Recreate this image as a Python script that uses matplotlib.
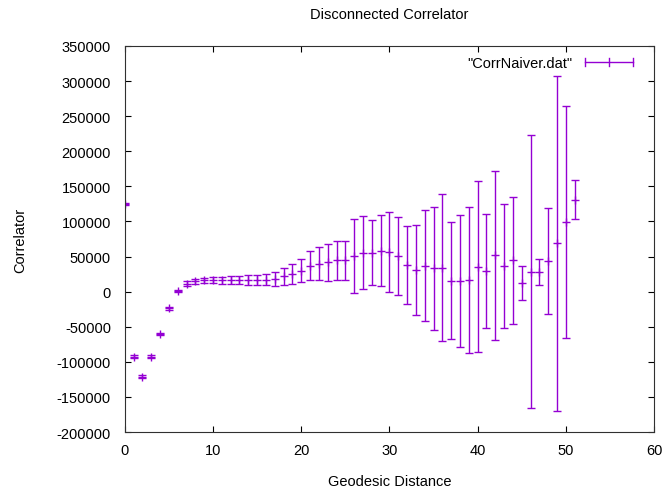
import numpy as np
import matplotlib
matplotlib.use("Agg")
import matplotlib.pyplot as plt
from matplotlib.legend_handler import HandlerBase
from matplotlib.lines import Line2D

plt.rcParams['font.family'] = ['Liberation Sans', 'DejaVu Sans']
plt.rcParams['axes.unicode_minus'] = False

# geodesic distance and correlator values
distance = np.arange(0, 52)
corr = [125000, -93000, -121000, -93000, -60500, -23500, 1000, 11500, 14500, 16000,
        16500, 16500, 16500, 16500, 17000, 16500, 17000, 17500, 22000, 25500,
        29500, 37000, 40000, 41500, 44500, 44500, 51000, 55500, 55500, 58000,
        56500, 50500, 38000, 30500, 37000, 33000, 34000, 15500, 15500, 16500,
        35500, 29000, 52000, 37000, 44500, 12500, 28000, 28000, 43500, 69000,
        99000, 131000]
err = [1500, 2000, 2000, 2000, 2000, 2000, 2000, 3000, 3500, 4000,
       4500, 5000, 5500, 6000, 7000, 7000, 7600, 10000, 12300, 14500,
       16400, 20700, 23000, 26000, 27500, 27500, 53000, 52000, 46500, 50500,
       56500, 56000, 56000, 64500, 79000, 87000, 104500, 83000, 94000, 104000,
       121500, 81000, 120500, 88500, 90500, 24000, 194500, 18000, 75000, 238500,
       165000, 27500]

col = '#9400d3'
fs = 10.5


class GnuplotErrKey(HandlerBase):
    # gnuplot style key sample: horizontal line, end caps, plus in the middle
    def create_artists(self, legend, orig_handle, xdescent, ydescent,
                       width, height, fontsize, trans):
        y = height / 2 - ydescent
        x0, x1 = -xdescent, width - xdescent
        h = 3
        arts = [Line2D([x0, x1], [y, y], color=col, lw=1),
                Line2D([x0, x0], [y - h, y + h], color=col, lw=1),
                Line2D([x1, x1], [y - h, y + h], color=col, lw=1),
                Line2D([(x0 + x1) / 2] * 2, [y - h, y + h], color=col, lw=1)]
        for a in arts:
            a.set_transform(trans)
        return arts


fig = plt.figure(figsize=(6.64, 4.89), dpi=100)
ax = fig.add_axes([0.188, 0.1145, 0.797, 0.7895])

eb = ax.errorbar(distance, corr, yerr=err, fmt='+', color=col, ms=6, mew=1,
                 elinewidth=1, capsize=3, capthick=1, label='"CorrNaiver.dat"')

ax.set_xlim(0, 60)
ax.set_ylim(-200000, 350000)
ax.set_xticks(np.arange(0, 61, 10))
ax.set_yticks(np.arange(-200000, 350001, 50000))
ax.tick_params(direction='in', top=True, right=True, labelsize=fs, length=4)
ax.tick_params(axis='x', pad=8)
ax.tick_params(axis='y', pad=10)
for s in ax.spines.values():
    s.set_color('#303030')

ax.set_title('Disconnected Correlator', fontsize=fs, pad=20)
ax.set_xlabel('Geodesic Distance', fontsize=fs, labelpad=12)
ax.set_ylabel('Correlator', fontsize=fs, labelpad=21)

ax.legend(handles=[eb], labels=['"CorrNaiver.dat"'], loc='upper right',
          bbox_to_anchor=(0.98, 1.0),
          frameon=False, markerfirst=False, fontsize=fs,
          handlelength=3.3, borderaxespad=0.3, handletextpad=0.9,
          handler_map={type(eb): GnuplotErrKey()})

fig.savefig('out.png', dpi=100)
